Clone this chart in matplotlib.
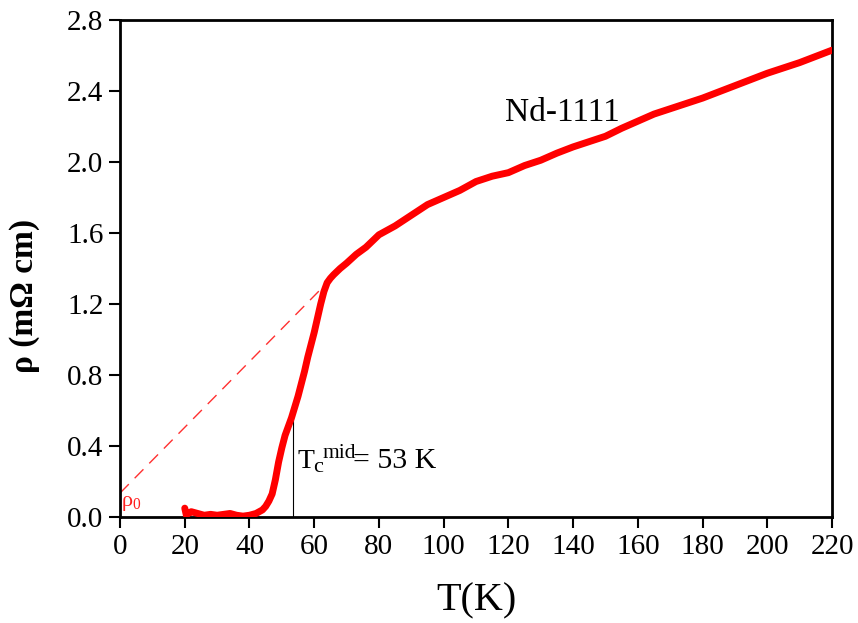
import numpy as np
import matplotlib.pyplot as plt

plt.rcParams['font.family'] = ['Liberation Serif', 'DejaVu Serif']
plt.rcParams['mathtext.fontset'] = 'custom'
plt.rcParams['mathtext.rm'] = 'Liberation Serif'
plt.rcParams['mathtext.it'] = 'Liberation Serif:italic'
plt.rcParams['mathtext.bf'] = 'Liberation Serif:bold'

# resistivity data
temp = [20, 20.5, 21, 22, 24, 26, 28, 30, 32, 34, 36, 38, 40, 42, 43, 44, 45,
        46, 47, 48, 49, 50, 51, 52, 53, 54, 55, 56, 57, 58, 59, 60, 61, 62,
        63, 64, 65, 66, 68, 70, 73, 76, 80, 85, 90, 95, 100, 105, 110, 115,
        120, 125, 130, 135, 140, 145, 150, 155, 160, 165, 170, 175, 180, 190,
        200, 210, 220]
rho = [0.05, 0.01, 0.02, 0.03, 0.02, 0.01, 0.015, 0.01, 0.015, 0.02, 0.01,
       0.005, 0.01, 0.02, 0.03, 0.04, 0.06, 0.09, 0.13, 0.21, 0.31, 0.39,
       0.46, 0.51, 0.56, 0.62, 0.68, 0.75, 0.82, 0.90, 0.97, 1.04, 1.12, 1.20,
       1.27, 1.32, 1.345, 1.365, 1.40, 1.43, 1.48, 1.52, 1.59, 1.64, 1.70,
       1.76, 1.80, 1.84, 1.89, 1.92, 1.94, 1.98, 2.01, 2.05, 2.085, 2.115,
       2.145, 2.19, 2.23, 2.27, 2.30, 2.33, 2.36, 2.43, 2.50, 2.56, 2.63]

# linear extrapolation of normal state to T = 0
fit_T = [0, 64]
fit_rho = [0.135, 1.32]

# Tc mid marker
tc_T = [53.5, 53.5]
tc_rho = [0, 0.55]

fig = plt.figure(figsize=(8.58, 6.23), dpi=100)
ax = fig.add_axes([0.1399, 0.1701, 0.8298, 0.7978])

ax.plot(temp, rho, color='#ff0000', linewidth=5, solid_capstyle='round',
        solid_joinstyle='round', zorder=3)
ax.plot(fit_T, fit_rho, color='#ff3030', linewidth=1, dashes=(9, 6), zorder=2)
ax.plot(tc_T, tc_rho, color='black', linewidth=0.8, zorder=2)

# T_c^mid label, built from pieces so sub/superscript sizes match
anchor = (54.7, 0.275)
ax.annotate('T', anchor, fontsize=20)
ax.annotate('c', anchor, xytext=(11.5, -3), textcoords='offset points', fontsize=16)
ax.annotate('mid', anchor, xytext=(18, 7), textcoords='offset points', fontsize=15.5)
ax.annotate('= 53 K', anchor, xytext=(40, 0), textcoords='offset points', fontsize=21.5)

ax.text(0.4, 0.06, r'$\mathregular{\rho_0}$', fontsize=16, color='#ff2020')
ax.text(119, 2.23, 'Nd-1111', fontsize=24)

ax.set_xlim(0, 220)
ax.set_ylim(0, 2.8)
ax.set_xticks(np.arange(0, 221, 20))
ax.set_yticks(np.arange(0, 2.81, 0.4))
ax.set_yticklabels([f'{v:.1f}' for v in np.arange(0, 2.81, 0.4)])

ax.set_xlabel('T(K)', fontsize=29, labelpad=16)
ax.set_ylabel('ρ (mΩ cm)', fontsize=24, fontweight='bold', labelpad=14)
ax.yaxis.set_label_coords(-0.113, 0.445)

ax.tick_params(direction='out', length=8, width=1.5, labelsize=21, pad=4)
for s in ax.spines.values():
    s.set_linewidth(2)

fig.savefig('out.png', dpi=100)
